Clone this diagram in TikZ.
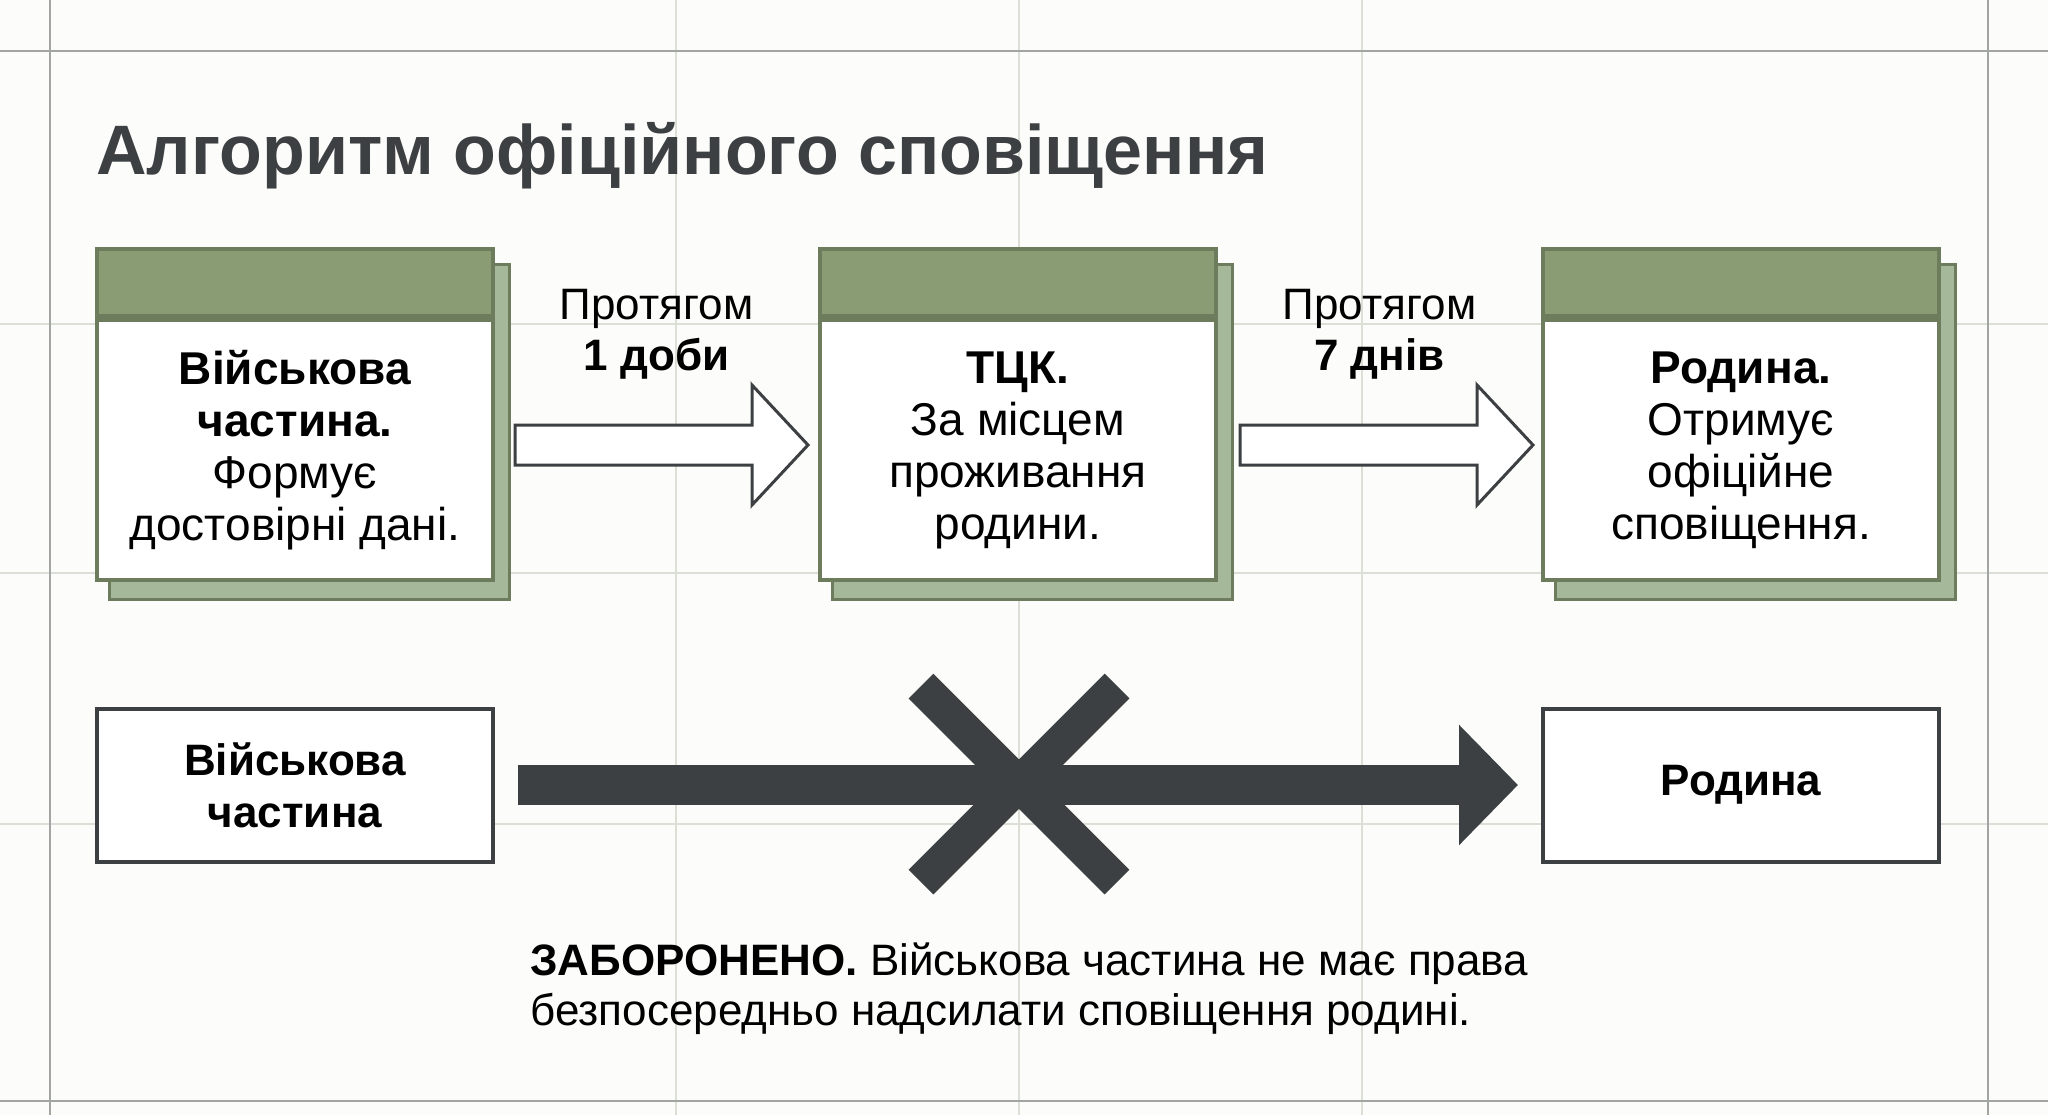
\documentclass[tikz,border=0pt]{standalone}
\usepackage{fontspec}
\setmainfont{Liberation Sans}
\usetikzlibrary{arrows.meta,calc,backgrounds}

\definecolor{paper}{HTML}{FCFCFA}
\definecolor{gridlite}{HTML}{DCDFD5}
\definecolor{gridmajor}{HTML}{A3A6A0}
\definecolor{hdrgreen}{HTML}{8A9C74}
\definecolor{edgegreen}{HTML}{6C7C5C}
\definecolor{shadegreen}{HTML}{A5B99A}
\definecolor{ink}{HTML}{3D4043}

\begin{document}
\begin{tikzpicture}[
    x=0.5pt, y=-0.5pt,
    stepbody/.style={rectangle, draw=edgegreen, fill=white, line width=2pt, minimum width=198pt, minimum height=130pt, align=center, font=\fontsize{23}{26}\selectfont, inner sep=0pt},
    stephead/.style={rectangle, draw=edgegreen, fill=hdrgreen, line width=2pt, minimum width=198pt, minimum height=33.5pt, inner sep=0pt},
    stepshade/.style={draw=edgegreen, fill=shadegreen, line width=1.5pt},
    flowarr/.style={draw=ink, fill=white, line width=1.5pt, line join=miter},
    durlbl/.style={align=center, font=\fontsize{22}{25.5}\selectfont, inner sep=0pt},
    plainbox/.style={rectangle, draw=ink, fill=white, line width=2pt, minimum width=198pt, minimum height=76.5pt, align=center, font=\fontsize{22}{26}\selectfont\bfseries, inner sep=0pt},
    banarr/.style={draw=ink, line width=20pt, -{Triangle[length=29.5pt, width=58.5pt]}, shorten <=11.5pt, shorten >=11.5pt},
    crossbar/.style={draw=ink, line width=17.5pt}
]
\useasboundingbox (0,0) rectangle (2048,1115);

% Фон і сітка
\begin{scope}[on background layer]
\fill[paper] (0,0) rectangle (2048,1115);
\foreach \gy in {324,573,824} \draw[gridlite, line width=0.7pt] (0,\gy) -- (2048,\gy);
\foreach \gx in {676,1019,1362} \draw[gridlite, line width=0.7pt] (\gx,0) -- (\gx,1115);
\foreach \gy in {51,1101} \draw[gridmajor, line width=1.3pt] (0,\gy) -- (2048,\gy);
\foreach \gx in {50,1988} \draw[gridmajor, line width=1.3pt] (\gx,0) -- (\gx,1115);
\end{scope}

% Заголовок
\node[anchor=base west, font=\fontsize{35}{40}\selectfont\bfseries, text=ink, inner sep=0pt] (title) at (96,174) {Алгоритм офіційного сповіщення};

% Етапи
\node[stepbody] (unit) at (295,450) {\textbf{Військова}\\\textbf{частина.}\\Формує\\достовірні дані.};
\node[stephead, anchor=south] (unit-hd) at (unit.north) {};

\node[stepbody] (tck) at (1018,450) {\textbf{ТЦК.}\\За місцем\\проживання\\родини.};
\node[stephead, anchor=south] (tck-hd) at (tck.north) {};

\node[stepbody] (family) at (1741,450) {\textbf{Родина.}\\Отримує\\офіційне\\сповіщення.};
\node[stephead, anchor=south] (family-hd) at (family.north) {};

\begin{scope}[on background layer]
\foreach \bx in {unit,tck,family}
  \draw[stepshade] ([shift={(14,17)}]\bx-hd.north west) rectangle ([shift={(14,17)}]\bx.south east);
\end{scope}

% Строки передачі
\draw[flowarr] ([shift={(20,-25)}]unit.east) -- ++(237,0) -- ++(0,-40) -- ++(56,60) -- ++(-56,60) -- ++(0,-40) -- ++(-237,0) -- cycle;
\node[durlbl] (dur1) at ($(unit.east)!0.5!(tck.west)+(0,-116)$) {Протягом\\\textbf{1 доби}};

\draw[flowarr] ([shift={(22,-25)}]tck.east) -- ++(237,0) -- ++(0,-40) -- ++(56,60) -- ++(-56,60) -- ++(0,-40) -- ++(-237,0) -- cycle;
\node[durlbl] (dur2) at ($(tck.east)!0.5!(family.west)+(0,-116)$) {Протягом\\\textbf{7 днів}};

% Заборонений шлях
\node[plainbox] (unitb) at (295,785) {Військова\\частина};
\node[plainbox] (familyb) at (1741,785) {Родина};
\draw[banarr] (unitb) -- (familyb);

\coordinate (ban) at (1019,784);
\draw[crossbar] ($(ban)+(-98,-98)$) -- ($(ban)+(98,98)$);
\draw[crossbar] ($(ban)+(98,-98)$) -- ($(ban)+(-98,98)$);

\node[anchor=west, align=left, font=\fontsize{22}{25}\selectfont, inner sep=0pt] (ban-note) at (530,989) {\textbf{ЗАБОРОНЕНО.} Військова частина не має права\\безпосередньо надсилати сповіщення родині.};

\end{tikzpicture}
\end{document}
